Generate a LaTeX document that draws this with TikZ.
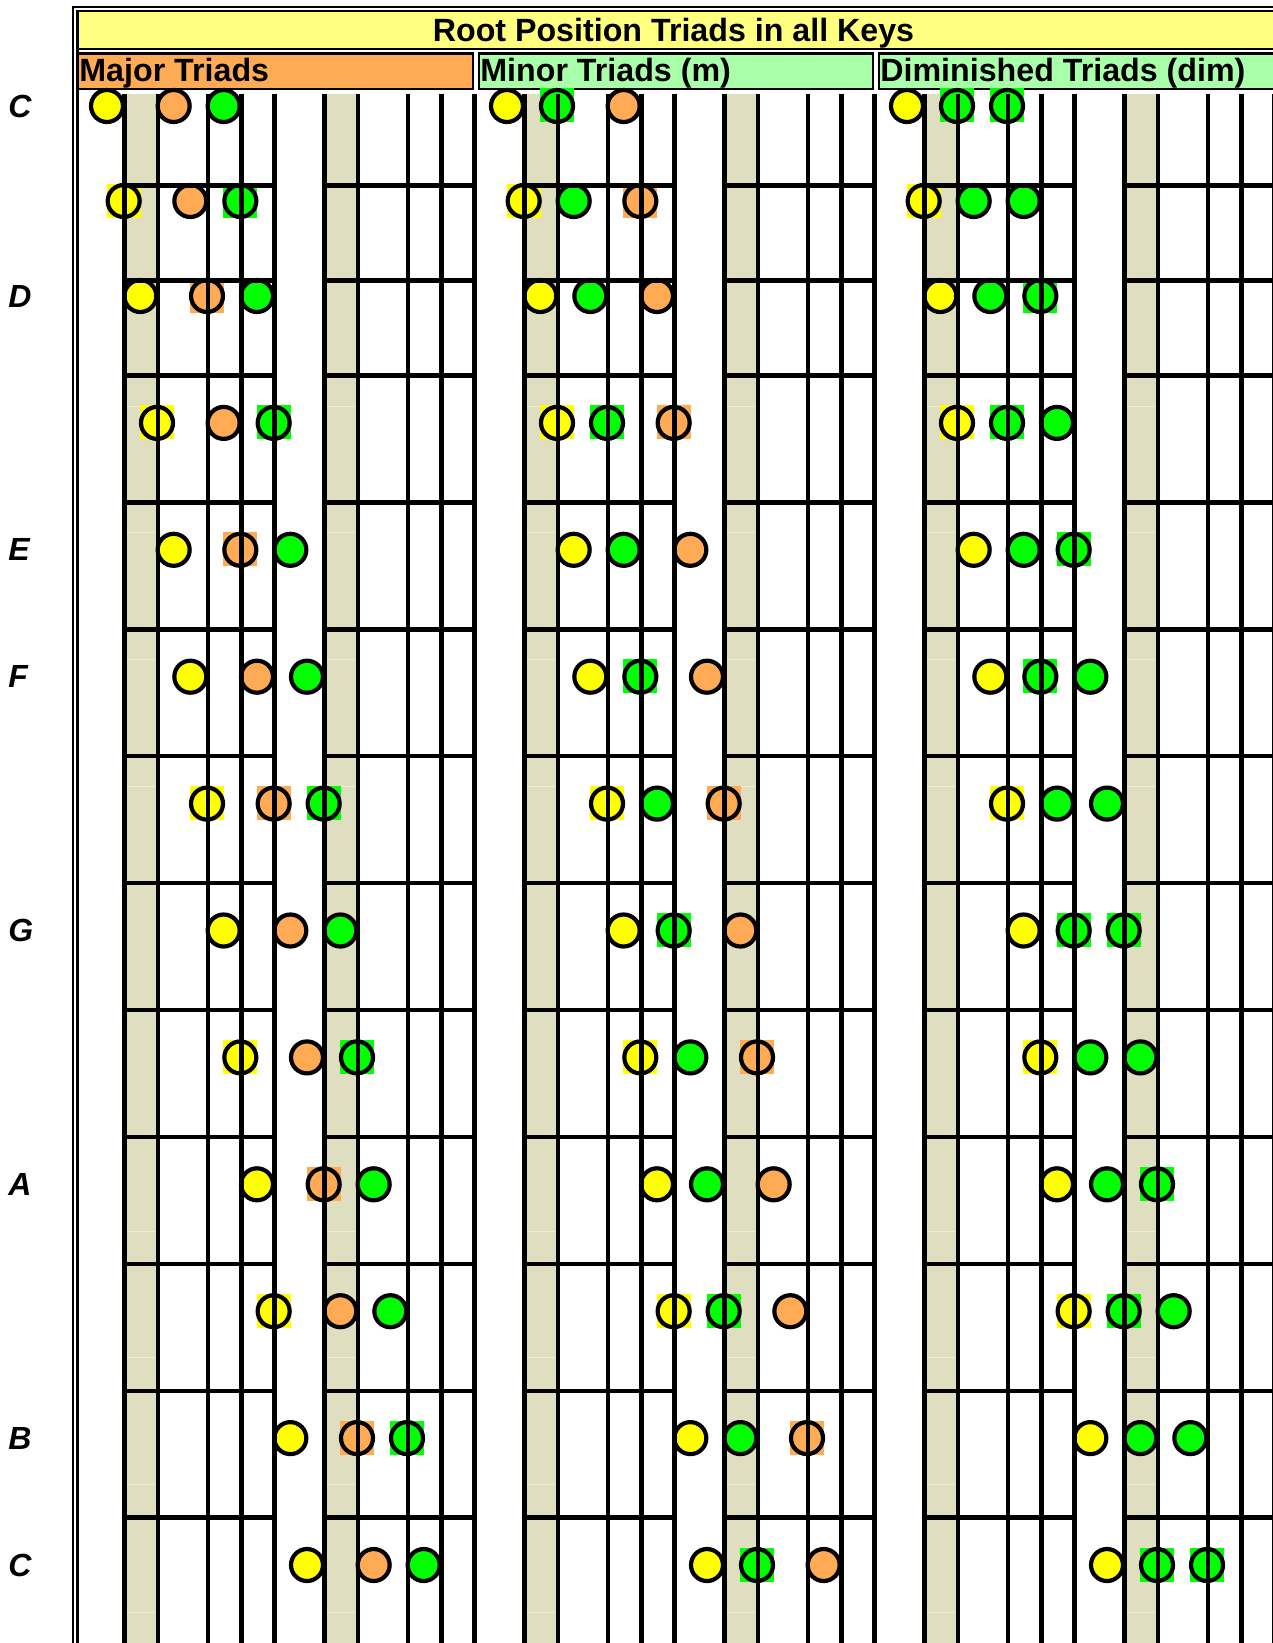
\documentclass[tikz,border=0pt]{standalone}
\usepackage{fontspec}
\setmainfont{Liberation Sans}
\definecolor{titleyellow}{RGB}{255,255,128}
\definecolor{noteorange}{RGB}{255,170,85}
\definecolor{noteyellow}{RGB}{255,255,0}
\definecolor{notegreen}{RGB}{0,255,0}
\definecolor{headgreen}{RGB}{170,255,170}
\definecolor{keybeige}{RGB}{224,222,193}
\definecolor{tickcream}{RGB}{238,236,214}

\begin{document}
\begin{tikzpicture}[x=0.5pt, y=-0.5pt,
  note/.style={circle, draw=black, line width=2.1pt, minimum size=16pt, inner sep=0pt},
  keyname/.style={anchor=west, inner sep=0pt, font=\fontsize{16}{18}\selectfont\bfseries\itshape},
  headtext/.style={anchor=base west, inner sep=0pt, font=\fontsize{16.1}{18}\selectfont\bfseries},
  gridline/.style={line width=2.2pt},
  frameline/.style={line width=1.15pt},
  declare function={rowy(\q)=(\q<3)*(106+95*\q)+(\q>2)*(296+126.9*(\q-2));}]

  \useasboundingbox (0,0) rectangle (1273,1643);
  \fill[white] (0,0) rectangle (1273,1643);
  \clip (0,0) rectangle (1273,1643);

  % frame and headings
  \draw[frameline] (73,1650) -- (73,7) -- (1290,7);
  \draw[frameline] (77.5,1650) -- (77.5,11.3);
  \draw[frameline, fill=titleyellow] (77.5,11.3) rectangle (1290,48.8);
  \draw[frameline, fill=noteorange] (77.5,53.5) rectangle (473,88.8);
  \draw[frameline, fill=headgreen] (479,53.5) rectangle (873,88.8);
  \draw[frameline, fill=headgreen] (879,53.5) rectangle (1290,88.8);
  \node[headtext, anchor=base] (title) at (673.5,41.7) {Root Position Triads in all Keys};
  \node[headtext] (major) at (79,81.7) {Major Triads};
  \node[headtext] (minor) at (480,81.7) {Minor Triads (m)};
  \node[headtext] (dim) at (880,81.7) {Diminished Triads (dim)};

  % key columns
  \foreach \o in {0,...,5} {
    \fill[keybeige] (124.7+200*\o,94) rectangle (158+200*\o,1650);
    \foreach \y in {406,532,659,786,1231,1357,1484,1612}
      \draw[tickcream, line width=0.5pt] (122+200*\o,\y) -- (157+200*\o,\y);
  }

  % triads
  \foreach \k in {0,...,12} {
    \pgfmathsetmacro\rowpos{rowy(\k)}
    \foreach \j/\iv/\col in {0/0/noteyellow, 0/4/noteorange, 0/7/notegreen,
        1/0/noteyellow, 1/3/notegreen, 1/7/noteorange,
        2/0/noteyellow, 2/3/notegreen, 2/6/notegreen} {
      \pgfmathtruncatemacro\semi{\k+\iv}
      \pgfmathtruncatemacro\isblack{{0,1,0,1,0,0,1,0,1,0,1,0}[mod(\semi,12)]}
      \pgfmathsetmacro\notepos{107+400*\j+200/12*\semi}
      \ifnum\isblack=1
        \fill[\col] (\notepos-17,\rowpos-17.5) rectangle (\notepos+17,\rowpos+16.5);
      \fi
      \node[note, fill=\col] (t\j-\k-\iv) at (\notepos,\rowpos) {};
    }
  }

  % grid lines
  \foreach \k in {0,...,11} {
    \pgfmathsetmacro\linepos{rowy(\k)+79.5}
    \foreach \o in {0,...,5}
      \draw[gridline] (124.7+200*\o,\linepos) -- (274.7+200*\o,\linepos);
  }
  \foreach \o in {0,...,5}
    \foreach \p in {1,3,6,8,10}
      \draw[gridline] (108+200*\o+200/12*\p,94) -- (108+200*\o+200/12*\p,1650);

  % key names
  \foreach \k/\lab in {0/C, 2/D, 4/E, 5/F, 7/G, 9/A, 11/B, 12/C}
    \node[keyname] (key\k) at (8,{rowy(\k)}) {\lab};
\end{tikzpicture}
\end{document}
